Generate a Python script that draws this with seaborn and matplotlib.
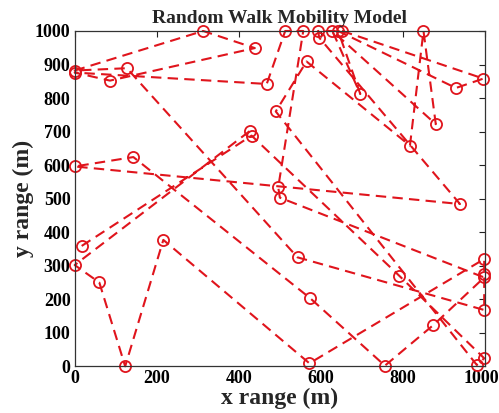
import matplotlib
matplotlib.use("Agg")
import matplotlib.pyplot as plt
import matplotlib.transforms as mtransforms
import seaborn as sns
import pandas as pd

# Waypoints of the random walk, in visiting order (metres)
x_pos = [17, 431, 791, 998, 980, 490, 565, 817, 850, 880, 628, 696, 642, 929, 996,
         652, 593, 596, 939, 0, 143, 574, 756, 874, 998, 500, 496, 557, 513, 468,
         0, 86, 439, 313, 0, 127, 543, 998, 998, 998, 572, 216, 123, 60, 0, 428]
y_pos = [359, 688, 270, 24, 4, 760, 909, 658, 1000, 722, 1000, 812, 1000, 830, 858,
         1000, 1000, 980, 484, 596, 624, 203, 2, 123, 265, 503, 534, 1000, 1000, 842,
         876, 852, 949, 1000, 882, 889, 325, 168, 275, 320, 9, 377, 0, 250, 302, 703]

x_ticks = [0, 200, 400, 600, 800, 1000]
y_ticks = [0, 100, 200, 300, 400, 500, 600, 700, 800, 900, 1000]

walk = pd.DataFrame({"x": x_pos, "y": y_pos, "step": range(len(x_pos))})

sns.set_style("white")
plt.rcParams["font.family"] = ["Liberation Serif", "DejaVu Serif"]

fig = plt.figure(figsize=(4.99, 4.13), dpi=100)
ax = fig.add_axes([0.1497, 0.113, 0.8223, 0.812])

red = "#e0141c"
sns.lineplot(data=walk, x="x", y="y", sort=False, estimator=None, ax=ax,
             color=red, linestyle=(0, (5, 3)), linewidth=1.5,
             marker="o", markersize=8, markerfacecolor="none",
             markeredgecolor=red, markeredgewidth=1.3, clip_on=False)

ax.set_xlim(0, 1000)
ax.set_ylim(0, 1000)
ax.set_xticks(x_ticks)
ax.set_yticks(y_ticks)
ax.set_xticklabels([str(v) for v in x_ticks], fontsize=13, fontweight="bold")
ax.set_yticklabels([str(v) for v in y_ticks], fontsize=13, fontweight="bold")
ax.tick_params(direction="in", length=4, width=0.8, top=True, right=True,
               labeltop=False, labelright=False, pad=3, colors="#222222",
               labelcolor="black")

# keep the last x tick label inside the figure edge
last = ax.get_xticklabels()[-1]
last.set_transform(last.get_transform() +
                   mtransforms.ScaledTranslation(-4 / 100, 0, fig.dpi_scale_trans))

for side in ["left", "right", "top", "bottom"]:
    ax.spines[side].set_visible(True)
    ax.spines[side].set_color("#333333")
    ax.spines[side].set_linewidth(0.9)

ax.set_xlabel("x range (m)", fontsize=17, fontweight="bold", labelpad=0)
ax.set_ylabel("y range (m)", fontsize=17, fontweight="bold", labelpad=1)
ax.set_title("Random Walk Mobility Model", fontsize=14, fontweight="bold", pad=6)

fig.savefig("out.png", dpi=100)
